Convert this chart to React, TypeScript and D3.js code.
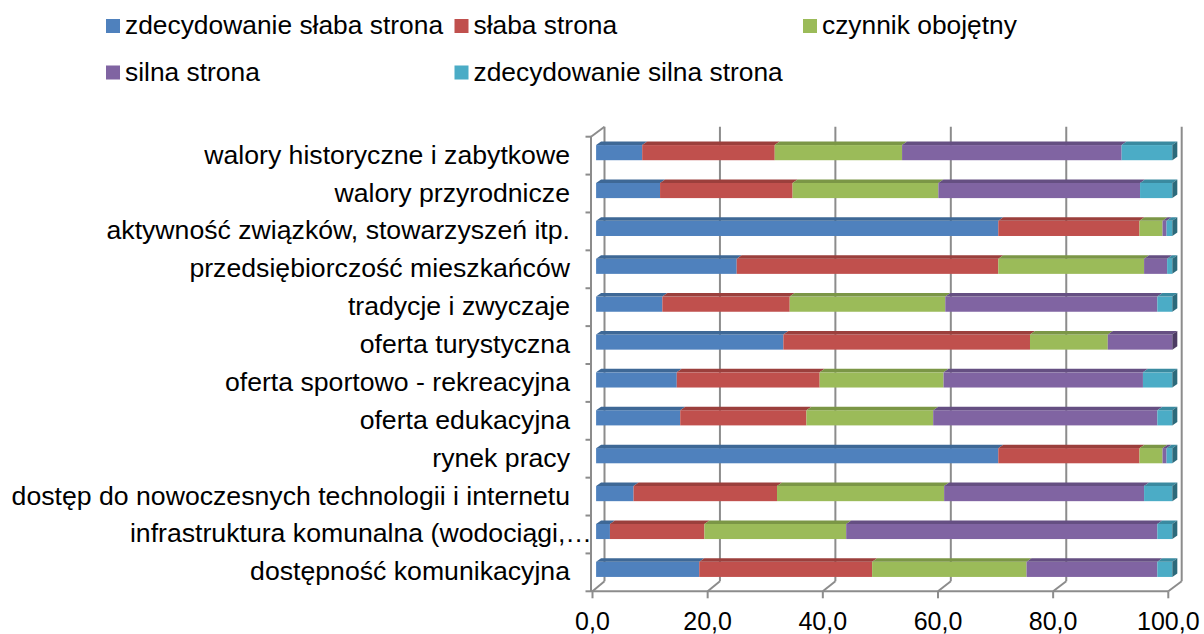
import React from 'react';
import * as d3 from 'd3';

// categories, top to bottom
const categories = [
  'walory historyczne i zabytkowe',
  'walory przyrodnicze',
  'aktywność związków, stowarzyszeń itp.',
  'przedsiębiorczość mieszkańców',
  'tradycje i zwyczaje',
  'oferta turystyczna',
  'oferta sportowo - rekreacyjna',
  'oferta edukacyjna',
  'rynek pracy',
  'dostęp do nowoczesnych technologii i internetu',
  'infrastruktura komunalna (wodociągi,…',
  'dostępność komunikacyjna',
];

const seriesNames = [
  'zdecydowanie słaba strona',
  'słaba strona',
  'czynnik obojętny',
  'silna strona',
  'zdecydowanie silna strona',
];

const bardzoSlaba = [8.0, 11.1, 69.8, 24.4, 11.5, 32.5, 14.0, 14.6, 69.8, 6.5, 2.4, 17.9];
const slaba = [23.0, 23.0, 24.5, 45.4, 22.1, 42.8, 24.8, 21.9, 24.5, 24.9, 16.4, 30.0];
const obojetny = [22.1, 25.3, 4.0, 25.3, 27.0, 13.5, 21.5, 22.0, 4.0, 29.0, 24.6, 26.8];
const silna = [38.1, 35.0, 0.7, 4.0, 36.8, 11.2, 34.6, 38.9, 0.7, 34.7, 54.0, 22.7];
const bardzoSilna = [8.8, 5.6, 1.0, 0.9, 2.6, 0.0, 5.1, 2.6, 1.0, 4.9, 2.6, 2.6];

const xTicks = [0, 20, 40, 60, 80, 100];

const front = ['#4F81BD', '#C0504D', '#9BBB59', '#8064A2', '#4BACC6'];
const topCol = ['#3E6896', '#9B3F3C', '#7B9646', '#654F82', '#3A8AA0'];
const sideCol = ['#2F5075', '#77302E', '#5E7336', '#4D3C63', '#2C6A7B'];

const W = 1204;
const H = 634;
const FONT = '"Liberation Sans", Arial, sans-serif';

export default function App() {
  const rows = categories.map((c, i) => ({
    cat: c,
    s0: bardzoSlaba[i],
    s1: slaba[i],
    s2: obojetny[i],
    s3: silna[i],
    s4: bardzoSilna[i],
  }));
  const keys = ['s0', 's1', 's2', 's3', 's4'];
  const stacked = d3.stack<any>().keys(keys)(rows);

  // front plane and back wall of the 3d box
  const xFront = d3.scaleLinear().domain([0, 100]).range([592.5, 1168.3]);
  const xBack = d3.scaleLinear().domain([0, 100]).range([604.5, 1181.7]);
  const yFrontTop = 136.7;
  const yFrontBot = 591.3;
  const depthY = 10;

  // bars sit 30% into the depth
  const f = 0.3;
  const xBar = (v: number) => xFront(v) + f * (xBack(v) - xFront(v));
  const ddx = 5;
  const ddy = 3.5;

  const y = d3
    .scaleBand()
    .domain(categories)
    .range([yFrontTop - depthY * f, yFrontBot - depthY * f])
    .paddingInner(0.6)
    .paddingOuter(0.3);
  const step = (yFrontBot - yFrontTop) / categories.length;

  const grid = '#8C8C8C';

  return (
    <svg width={W} height={H} style={{ position: 'absolute', left: 0, top: 0, background: '#fff' }}>
      {/* legend */}
      <g fontFamily={FONT} fontSize={25} fill="#000">
        {seriesNames.map((name, i) => {
          const col = i % 3;
          const row = Math.floor(i / 3);
          const lx = 106 + col * 348.5;
          const ly = 19 + row * 46.5;
          return (
            <g key={name}>
              <rect x={lx} y={ly} width={14} height={14} fill={front[i]} />
              <text transform={`translate(${lx + 19},${ly + 15}) scale(1.055,1)`}>{name}</text>
            </g>
          );
        })}
      </g>

      {/* back wall gridlines */}
      <g stroke={grid} strokeWidth={2} fill="none">
        {xTicks.map((t) => (
          <line key={t} x1={xBack(t)} x2={xBack(t)} y1={yFrontTop - depthY} y2={yFrontBot - depthY} />
        ))}
        {/* left wall */}
        <line x1={xFront(0) - 1.5} x2={xFront(0) - 1.5} y1={yFrontTop} y2={yFrontBot} />
        <line x1={xFront(0) - 1.5} x2={xBack(0)} y1={yFrontTop} y2={yFrontTop - depthY} />
        {d3.range(categories.length + 1).map((i) => (
          <line
            key={i}
            x1={xFront(0) - 7}
            x2={xFront(0) - 1.5}
            y1={yFrontTop + i * step}
            y2={yFrontTop + i * step}
          />
        ))}
        {/* floor */}
        <line x1={xFront(0) - 1.5} x2={xFront(100)} y1={yFrontBot} y2={yFrontBot} />
        {xTicks.map((t) => (
          <g key={t}>
            <line x1={xFront(t)} x2={xBack(t)} y1={yFrontBot} y2={yFrontBot - depthY} />
            <line x1={xFront(t)} x2={xFront(t)} y1={yFrontBot} y2={yFrontBot + 7} />
          </g>
        ))}
      </g>

      {/* bars */}
      {rows.map((r, ri) => {
        const top = y(r.cat)!;
        const bh = y.bandwidth();
        let lastIdx = 0;
        stacked.forEach((s, si) => {
          if (s[ri][1] - s[ri][0] > 0) lastIdx = si;
        });
        const end = stacked[lastIdx][ri][1];
        return (
          <g key={r.cat}>
            {stacked.map((s, si) => {
              const [a, b] = s[ri];
              if (b - a <= 0) return null;
              const x0 = xBar(a);
              const x1 = xBar(b);
              return (
                <g key={si}>
                  <rect x={x0} y={top} width={x1 - x0} height={bh} fill={front[si]} />
                  <polygon
                    points={`${x0},${top} ${x1},${top} ${x1 + ddx},${top - ddy} ${x0 + ddx},${top - ddy}`}
                    fill={topCol[si]}
                  />
                </g>
              );
            })}
            <polygon
              points={`${xBar(end)},${top} ${xBar(end) + ddx},${top - ddy} ${xBar(end) + ddx},${top + bh - ddy} ${xBar(end)},${top + bh}`}
              fill={sideCol[lastIdx]}
            />
          </g>
        );
      })}

      {/* category labels (truncated label runs up to the axis, like Excel) */}
      <g fontFamily={FONT} fontSize={25.5} fill="#000" textAnchor="end">
        {categories.map((c) => (
          <text
            key={c}
            transform={`translate(${c.endsWith('…') ? 592 : 570},${y(c)! + y.bandwidth() / 2 + 11}) scale(1.045,1)`}
          >
            {c}
          </text>
        ))}
      </g>

      {/* value axis labels */}
      <g fontFamily={FONT} fontSize={25} fill="#000" textAnchor="middle">
        {xTicks.map((t) => (
          <text key={t} x={xFront(t)} y={630}>
            {d3.format('.1f')(t).replace('.', ',')}
          </text>
        ))}
      </g>
    </svg>
  );
}
